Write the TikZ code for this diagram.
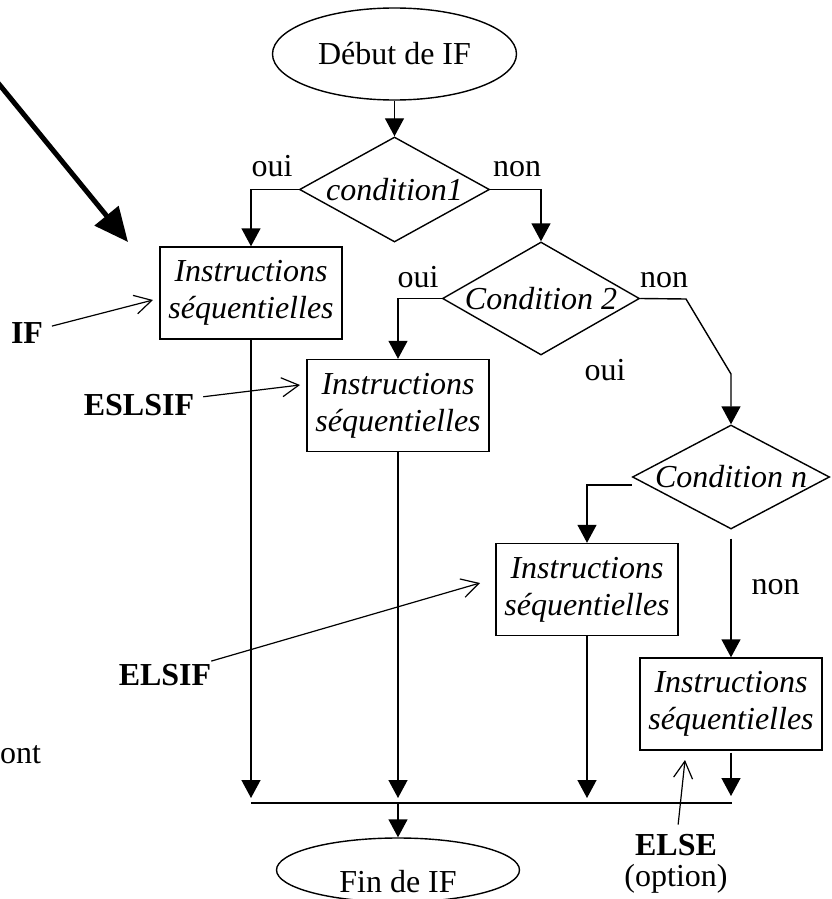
\documentclass[tikz,border=0pt]{standalone}
\usepackage{fontspec}
\setmainfont{Liberation Serif}
\usetikzlibrary{arrows.meta,shapes.geometric}

\newcommand{\bigfont}{\fontsize{32}{37}\selectfont}

\tikzset{
  flow/.style={-{Triangle[length=18pt,width=19pt]}, line width=1.4pt},
  note/.style={-{Straight Barb[length=17pt,width=19pt]}, line width=1.2pt, shorten <=9pt},
  big/.style={-{Triangle[length=34pt,width=30pt]}, line width=5pt},
  term/.style={draw, ellipse, line width=1.4pt, inner sep=0pt},
  instr/.style={draw, rectangle, line width=1.4pt, minimum width=182pt, minimum height=92pt,
    inner sep=0pt, align=center, font=\bigfont\itshape},
  test/.style={draw, diamond, aspect=2, line width=1.4pt, inner sep=0pt, font=\bigfont\itshape},
  lab/.style={anchor=base, inner sep=0pt},
  kw/.style={font=\bigfont\bfseries},
}

\begin{document}
\begin{tikzpicture}[x=1pt,y=-1pt,font=\bigfont]
    \useasboundingbox (0,0) rectangle (832,899);

    % Start and end
    \node[term, minimum width=244pt, minimum height=92pt] (debut) at (394.5,54) {Début de IF};
    \node[term, minimum width=243pt, minimum height=64pt] (fin) at (398,870)
        {\raisebox{-22pt}[0pt][0pt]{Fin de IF}};

    % Tests
    \node[test, minimum width=190pt, minimum height=105pt] (c1) at (394.5,189.5) {condition1};
    \node[test, minimum width=197pt, minimum height=113pt] (c2) at (541,298.5) {Condition 2};
    \node[test, minimum width=192pt, minimum height=104pt] (cn) at (731,477) {Condition n};

    % Instruction blocks
    \node[instr] (b1) at (251,293) {Instructions\\séquentielles};
    \node[instr] (b2) at (398,405.5) {Instructions\\séquentielles};
    \node[instr] (b3) at (587,589.5) {Instructions\\séquentielles};
    \node[instr] (b4) at (731,704) {Instructions\\séquentielles};

    % Bends and collecting line
    \coordinate (k1) at (686,299);
    \coordinate (k2) at (731,374);
    \coordinate (busL) at (251,803);
    \coordinate (busR) at (732,803);

    % Flow
    \draw[flow] (debut) -- (c1);
    \draw[flow] (c1.west) -| (b1);
    \draw[flow] (c1.east) -| (c2);
    \draw[flow] (c2.west) -| (b2);
    \draw[flow] (c2.east) -- (k1) -- (k2) -- (cn);
    \draw[flow] ([yshift=-8pt]cn.west) -| (b3);
    \draw[flow] ([yshift=-9pt]cn.south) -- (b4);
    \draw[line width=1.4pt] (busL) -- (busR);
    \draw[flow, shorten >=5pt] (b1) -- (b1 |- busL);
    \draw[flow, shorten >=5pt] (b2) -- (b2 |- busL);
    \draw[flow, shorten >=5pt] (b3) -- (b3 |- busL);
    \draw[flow, shorten <=2pt, shorten >=7pt] (b4) -- (b4 |- busR);
    \draw[flow] (b2 |- busL) -- (fin);

    % Branch labels
    \node[lab] (oui1) at (272,176) {oui};
    \node[lab] (non1) at (517,176) {non};
    \node[lab] (oui2) at (418,287) {oui};
    \node[lab] (non2) at (664,287) {non};
    \node[lab] (oui3) at (605,380) {oui};
    \node[lab] (non3) at (775.5,594) {non};

    % Keywords
    \node[lab, kw] (lif) at (27,343) {IF};
    \node[lab, kw] (lesl) at (139,415) {ESLSIF};
    \node[lab, kw] (lelsif) at (165,685) {ELSIF};
    \node[lab, kw] (lelse) at (676,855) {ELSE};
    \node[lab] (lopt) at (676,886) {(option)};
    \node[anchor=base west, inner sep=0pt] (lont) at (0,763) {ont};

    \coordinate (tif) at (153,300);
    \coordinate (tesl) at (300,385);
    \coordinate (telsif) at (480,583);
    \coordinate (telse) at (685,760);
    \draw[note] (lif) -- (tif);
    \draw[note] (lesl) -- (tesl);
    \draw[note] (lelsif) -- (telsif);
    \draw[note] (lelse) -- (telse);

    % Big pointer
    \coordinate (bigA) at (-6,78);
    \coordinate (bigB) at (128,242);
    \draw[big] (bigA) -- (bigB);
\end{tikzpicture}
\end{document}
